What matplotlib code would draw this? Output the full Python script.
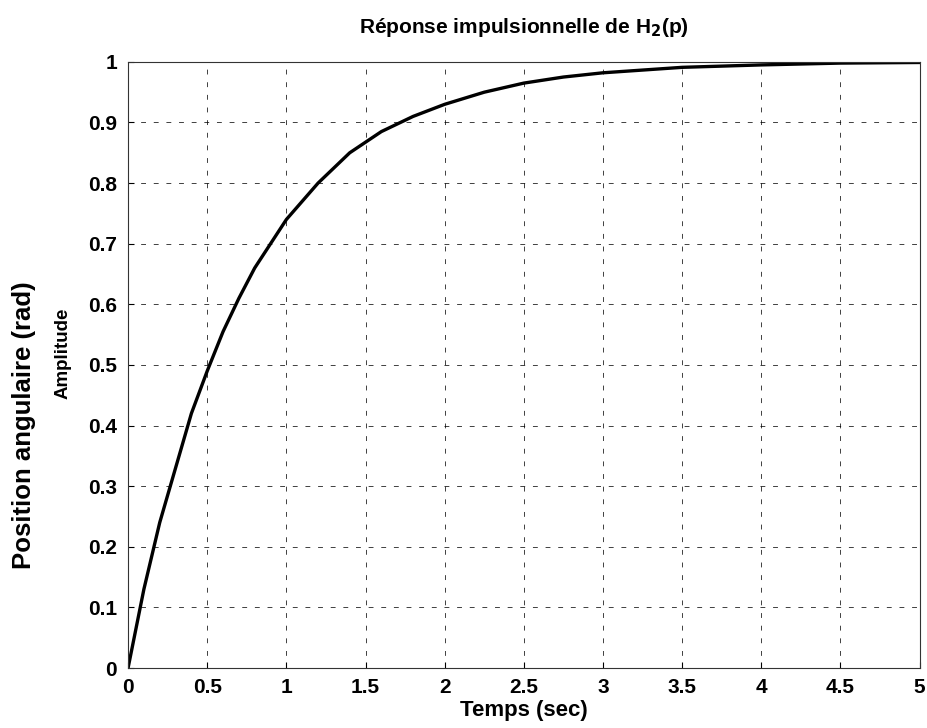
import matplotlib
matplotlib.use("Agg")
import matplotlib.pyplot as plt

# Values
t = [0, 0.1, 0.2, 0.3, 0.4, 0.5, 0.6, 0.7, 0.8, 0.9, 1.0, 1.2, 1.4, 1.6, 1.8,
     2.0, 2.25, 2.5, 2.75, 3.0, 3.5, 4.0, 4.5, 5.0]
amplitude = [0, 0.13, 0.24, 0.33, 0.42, 0.49, 0.555, 0.61, 0.66, 0.70, 0.74,
             0.80, 0.85, 0.885, 0.91, 0.93, 0.95, 0.965, 0.975, 0.982, 0.991,
             0.995, 0.998, 0.999]
xticks = [0, 0.5, 1, 1.5, 2, 2.5, 3, 3.5, 4, 4.5, 5]
xticklabels = ["0", "0.5", "1", "1.5", "2", "2.5", "3", "3.5", "4", "4.5", "5"]
yticks = [0, 0.1, 0.2, 0.3, 0.4, 0.5, 0.6, 0.7, 0.8, 0.9, 1]
yticklabels = ["0", "0.1", "0.2", "0.3", "0.4", "0.5", "0.6", "0.7", "0.8", "0.9", "1"]

plt.rcParams['font.family'] = ['Liberation Sans', 'DejaVu Sans']

fig = plt.figure(figsize=(9.28, 7.28), dpi=100)
ax = fig.add_axes([0.138, 0.0824, 0.853, 0.8326])

ax.plot(t, amplitude, color="black", linewidth=2.4)
ax.set_xlim(0, 5)
ax.set_ylim(0, 1)
ax.set_xticks(xticks)
ax.set_xticklabels(xticklabels)
ax.set_yticks(yticks)
ax.set_yticklabels(yticklabels)
ax.tick_params(direction="in", length=4, width=0.8, labelsize=15)
ax.tick_params(axis="x", pad=7)
ax.tick_params(axis="y", pad=8)
for lbl in ax.get_xticklabels() + ax.get_yticklabels():
    lbl.set_fontweight("bold")

ax.grid(True, color="black", linestyle=(0, (5, 8)), linewidth=0.7, alpha=0.75)
for sp in ax.spines.values():
    sp.set_linewidth(0.8)
    sp.set_color("#333333")

ax.set_title("Réponse impulsionnelle de H$_\\mathbf{2}$(p)", fontsize=15,
             fontweight="bold", pad=21)
ax.set_xlabel("Temps (sec)", fontsize=16, fontweight="bold", labelpad=2)
ax.set_ylabel("Amplitude", fontsize=13.5, fontweight="bold", labelpad=6)
ax.yaxis.set_label_coords(-0.072, 0.52)
fig.text(0.026, 0.416, "Position angulaire (rad)", rotation=90, fontsize=18.5,
         fontweight="bold", ha="center", va="center")

fig.savefig("out.png", dpi=100, facecolor="white")
